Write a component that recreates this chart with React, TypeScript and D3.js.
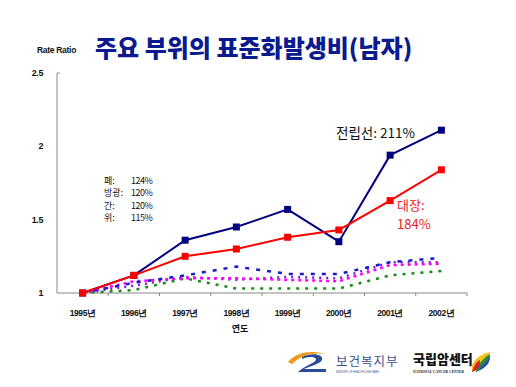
import React from 'react';
import * as d3 from 'd3';

// categories
const years = ['1995', '1996', '1997', '1998', '1999', '2000', '2001', '2002'];
const yTicks = [1, 1.5, 2, 2.5];

// series (rate ratio, 1995 = 1)
const prostate = [1.0, 1.12, 1.36, 1.45, 1.57, 1.35, 1.94, 2.11];
const colon = [1.0, 1.12, 1.25, 1.30, 1.38, 1.43, 1.63, 1.84];
const lung = [1.0, 1.07, 1.12, 1.18, 1.13, 1.13, 1.21, 1.24];
const bladder = [1.0, 1.08, 1.10, 1.10, 1.09, 1.08, 1.19, 1.20];
const liver = [1.0, 1.05, 1.11, 1.09, 1.11, 1.10, 1.21, 1.21];
const stomach = [1.0, 1.02, 1.10, 1.03, 1.03, 1.03, 1.12, 1.15];

const legendRows = [
  ['폐:', '124%'],
  ['방광:', '120%'],
  ['간:', '120%'],
  ['위:', '115%'],
];

const W = 516;
const H = 387;

const App = () => {
  const x = d3.scaleBand().domain(years).range([57, 467]);
  const cx = (d: string) => (x(d) as number) + x.bandwidth() / 2;
  const y = d3.scaleLinear().domain([1, 2.5]).range([293, 73]);

  const line = d3
    .line<number>()
    .x((_, i) => cx(years[i]))
    .y((d) => y(d));

  const dashed = [
    { data: stomach, color: '#1a8c1a', dash: '3,6' },
    { data: liver, color: '#7a22c8', dash: '2,5' },
    { data: bladder, color: '#ff00ff', dash: '3,4' },
    { data: lung, color: '#1a1acc', dash: '4,7' },
  ];

  const solid = [
    { data: prostate, color: '#000080' },
    { data: colon, color: '#ff0000' },
  ];

  const bold = { fontFamily: 'Arial, "Liberation Sans", sans-serif', fontWeight: 700 };

  return (
    <svg width={W} height={H} style={{ position: 'absolute', left: 0, top: 0, background: '#fff' }}>
      {/* title */}
      <text x={37} y={53} fontSize={8.5} {...bold} fill="#111" letterSpacing={-0.3}>
        Rate Ratio
      </text>
      <text x={95} y={57} fontSize={24} fontFamily='"Noto Sans CJK KR", sans-serif' fontWeight={900} fill="#0b1a8c">
        주요 부위의 표준화발생비(남자)
      </text>

      {/* axes */}
      <line x1={57} x2={57} y1={y(2.5)} y2={y(1)} stroke="#888" strokeWidth={1} />
      <line x1={57} x2={60} y1={y(2.5)} y2={y(2.5)} stroke="#888" strokeWidth={1} />
      <line x1={57} x2={467} y1={y(1)} y2={y(1)} stroke="#888" strokeWidth={1} />
      {years.map((d) => (
        <line key={d} x1={(x(d) as number) + x.bandwidth()} x2={(x(d) as number) + x.bandwidth()} y1={y(1)} y2={y(1) + 3} stroke="#888" />
      ))}
      {yTicks.map((t) => (
        <text key={t} x={43} y={y(t) + 3} fontSize={9} textAnchor="end" {...bold} fill="#111" letterSpacing={-0.4}>
          {t}
        </text>
      ))}
      {years.map((d) => (
        <text key={d} x={cx(d)} y={316} fontSize={8.5} textAnchor="middle" {...bold} fill="#111" letterSpacing={-0.4}>
          {d}년
        </text>
      ))}
      <text x={240} y={332} fontSize={9} textAnchor="middle" fontFamily='"Noto Sans CJK KR", sans-serif' fontWeight={700} fill="#111">
        연도
      </text>

      {/* dotted series */}
      {dashed.map((s, i) => (
        <path key={i} d={line(s.data) as string} fill="none" stroke={s.color} strokeWidth={2.5} strokeDasharray={s.dash} />
      ))}

      {/* solid series */}
      {solid.map((s, i) => (
        <g key={i}>
          <path d={line(s.data) as string} fill="none" stroke={s.color} strokeWidth={2} />
          {s.data.map((v, j) => (
            <rect key={j} x={cx(years[j]) - 3.5} y={y(v) - 3.5} width={7} height={7} fill={s.color} />
          ))}
        </g>
      ))}

      {/* annotations */}
      <text x={336} y={138} fontSize={13.5} fontFamily='"Noto Sans CJK KR", sans-serif' fill="#111">
        전립선: 211%
      </text>
      <text x={397} y={210} fontSize={13} fontFamily='"Noto Sans CJK KR", sans-serif' fill="#ee1c1c">
        대장:
      </text>
      <text x={397} y={229} fontSize={13} fontFamily='"Noto Sans CJK KR", sans-serif' fill="#ee1c1c">
        184%
      </text>
      {legendRows.map((r, i) => (
        <g key={i} fontFamily='"Noto Sans CJK KR", sans-serif' fontSize={9} fill="#111">
          <text x={104} y={184 + i * 12.3}>{r[0]}</text>
          <text x={131} y={184 + i * 12.3} letterSpacing={-0.5}>{r[1]}</text>
        </g>
      ))}

      {/* logos */}
      <g>
        <path d="M288,362 C296,352 312,350 324,354 C312,352 300,356 292,364 Z" fill="#f29a1c" />
        <path d="M302,357 C312,352 324,354 322,360 C320,364 310,366 304,369 L326,369 L326,372 L298,372 C304,366 316,363 316,359 C314,356 306,357 302,359 Z" fill="#2a4a9a" />
        <text x={336} y={366} fontSize={12.5} fontFamily='"Noto Sans CJK KR", sans-serif' fill="#3a4f8f" letterSpacing={1}>
          보건복지부
        </text>
        <text x={336} y={373} fontSize={2.6} fontFamily="Arial, sans-serif" fill="#3a4f8f">
          MINISTRY OF HEALTH &amp; WELFARE
        </text>
        <text x={413} y={364} fontSize={13} fontFamily='"Noto Sans CJK KR", sans-serif' fontWeight={900} fill="#111">
          국립암센터
        </text>
        <text x={413} y={373} fontSize={3.6} fontFamily='"Liberation Serif", serif' fontWeight={700} fill="#111">
          NATIONAL CANCER CENTER
        </text>
        <path d="M472,372 C470,362 478,355 490,352 C488,360 484,368 472,372 Z" fill="#f6c21a" />
        <path d="M476,370 C478,364 484,358 490,354 C490,362 486,368 476,372 Z" fill="#2a8a3a" />
        <path d="M472,372 C474,366 476,362 480,360 C480,366 478,370 472,372 Z" fill="#d8202a" />
        <path d="M480,368 C484,364 488,360 490,356 C490,362 488,366 480,370 Z" fill="#2a4ab0" />
      </g>
    </svg>
  );
};

export default App;
